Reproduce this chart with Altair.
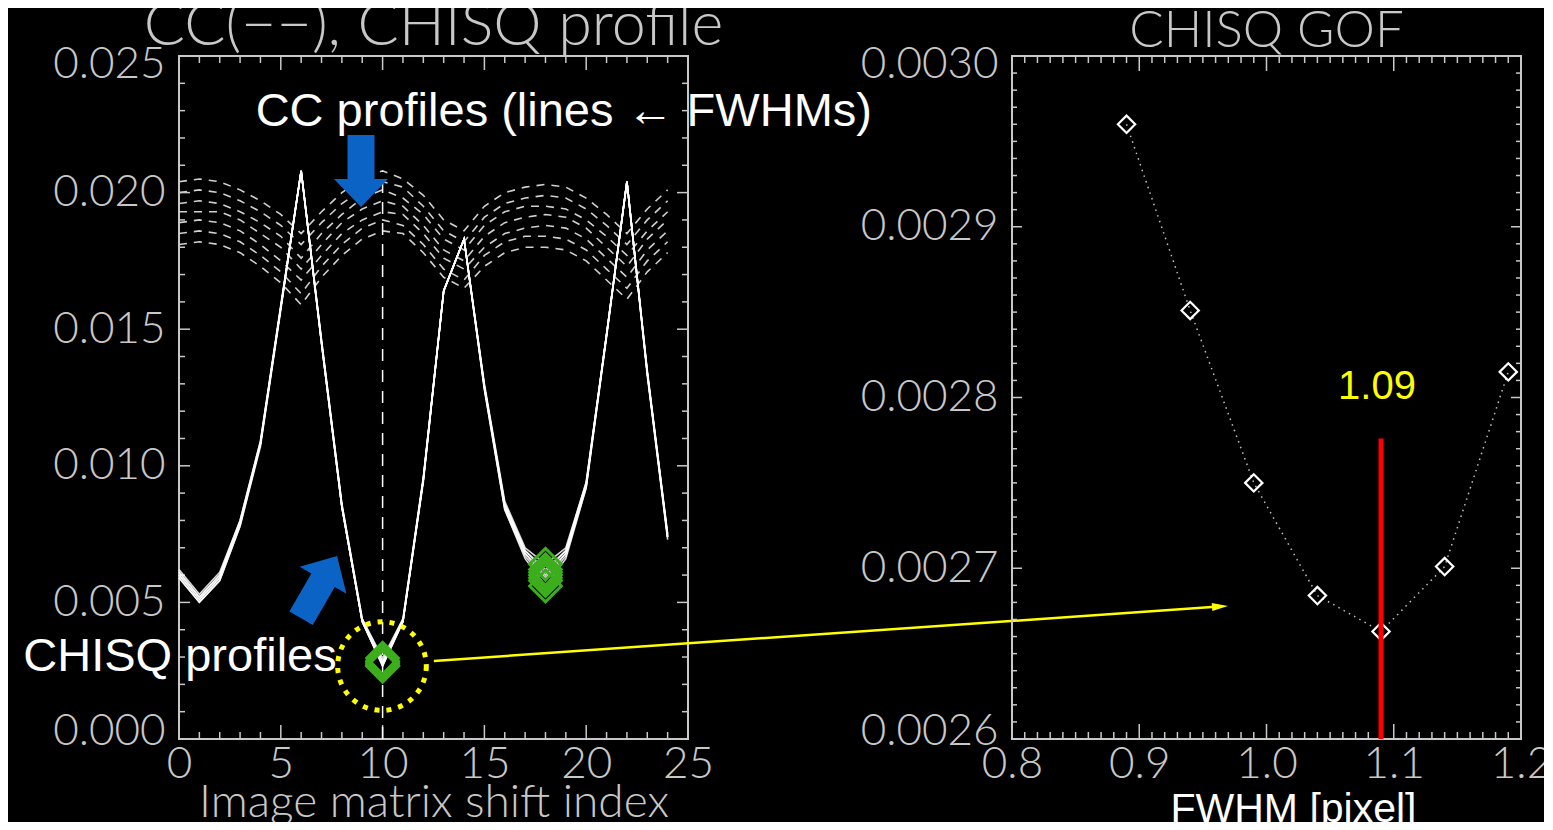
import altair as alt
import pandas as pd

# ---------------- data ----------------
SHIFT = list(range(25))
FWHM = [0.89, 0.94, 0.99, 1.04, 1.09, 1.14, 1.19]
GOF = [0.002960, 0.002851, 0.002750, 0.002684, 0.002663, 0.002701, 0.002815]
BEST_FWHM = 1.09

CC_089 = [0.0204, 0.0205, 0.0204, 0.0201, 0.0197, 0.0192, 0.0185, 0.0193, 0.0200, 0.0205, 0.0208, 0.0205, 0.0199,
          0.0190, 0.0186, 0.0195, 0.0200, 0.0202, 0.0203, 0.0202, 0.0198, 0.0192, 0.0185, 0.0194, 0.0201]
CC_094 = [0.0200, 0.0201, 0.0200, 0.0197, 0.0193, 0.0188, 0.0181, 0.0189, 0.0196, 0.0201, 0.0204, 0.0202, 0.0195,
          0.0186, 0.0182, 0.0191, 0.0196, 0.0198, 0.0199, 0.0198, 0.0194, 0.0188, 0.0181, 0.0190, 0.0197]
CC_099 = [0.0196, 0.0197, 0.0196, 0.0193, 0.0189, 0.0184, 0.0176, 0.0185, 0.0192, 0.0198, 0.0201, 0.0198, 0.0192,
          0.0183, 0.0179, 0.0188, 0.0193, 0.0195, 0.0195, 0.0194, 0.0190, 0.0184, 0.0177, 0.0186, 0.0193]
CC_104 = [0.0193, 0.0193, 0.0193, 0.0190, 0.0185, 0.0180, 0.0172, 0.0181, 0.0189, 0.0194, 0.0197, 0.0195, 0.0188,
          0.0179, 0.0175, 0.0184, 0.0189, 0.0191, 0.0192, 0.0191, 0.0187, 0.0180, 0.0173, 0.0183, 0.0190]
CC_109 = [0.0189, 0.0190, 0.0189, 0.0186, 0.0181, 0.0175, 0.0168, 0.0177, 0.0185, 0.0190, 0.0193, 0.0192, 0.0185,
          0.0176, 0.0172, 0.0180, 0.0185, 0.0187, 0.0188, 0.0187, 0.0183, 0.0176, 0.0169, 0.0179, 0.0186]
CC_114 = [0.0185, 0.0186, 0.0185, 0.0182, 0.0177, 0.0171, 0.0163, 0.0173, 0.0181, 0.0187, 0.0190, 0.0188, 0.0181,
          0.0172, 0.0168, 0.0177, 0.0182, 0.0184, 0.0184, 0.0183, 0.0179, 0.0172, 0.0165, 0.0175, 0.0182]
CC_119 = [0.0181, 0.0182, 0.0181, 0.0178, 0.0173, 0.0167, 0.0159, 0.0169, 0.0177, 0.0183, 0.0186, 0.0185, 0.0178,
          0.0169, 0.0165, 0.0173, 0.0178, 0.0180, 0.0180, 0.0179, 0.0175, 0.0168, 0.0161, 0.0171, 0.0178]

CHISQ_089 = [0.0062, 0.0053, 0.0061, 0.0080, 0.0109, 0.0159, 0.0208, 0.0146, 0.0086, 0.0044, 0.002960, 0.0044, 0.0096,
             0.0164, 0.0183, 0.0130, 0.0087, 0.0070, 0.0064, 0.0070, 0.0094, 0.0148, 0.0204, 0.0135, 0.0075]
CHISQ_094 = [0.0061, 0.0052, 0.0060, 0.0080, 0.0109, 0.0158, 0.0208, 0.0146, 0.0086, 0.0044, 0.002851, 0.0044, 0.0095,
             0.0164, 0.0183, 0.0129, 0.0086, 0.0069, 0.0062, 0.0069, 0.0094, 0.0148, 0.0204, 0.0134, 0.0075]
CHISQ_099 = [0.0061, 0.0052, 0.0060, 0.0079, 0.0108, 0.0158, 0.0208, 0.0145, 0.0085, 0.0043, 0.002750, 0.0043, 0.0095,
             0.0164, 0.0183, 0.0129, 0.0086, 0.0069, 0.0061, 0.0069, 0.0093, 0.0148, 0.0204, 0.0134, 0.0074]
CHISQ_104 = [0.0060, 0.0051, 0.0059, 0.0079, 0.0108, 0.0158, 0.0208, 0.0145, 0.0085, 0.0043, 0.002684, 0.0043, 0.0095,
             0.0164, 0.0183, 0.0129, 0.0085, 0.0068, 0.0060, 0.0068, 0.0093, 0.0148, 0.0204, 0.0134, 0.0074]
CHISQ_109 = [0.0060, 0.0051, 0.0059, 0.0079, 0.0108, 0.0158, 0.0208, 0.0145, 0.0085, 0.0043, 0.002663, 0.0043, 0.0095,
             0.0164, 0.0183, 0.0129, 0.0085, 0.0068, 0.0059, 0.0068, 0.0093, 0.0148, 0.0204, 0.0134, 0.0074]
CHISQ_114 = [0.0059, 0.0050, 0.0058, 0.0078, 0.0108, 0.0158, 0.0208, 0.0145, 0.0085, 0.0043, 0.002701, 0.0043, 0.0095,
             0.0164, 0.0183, 0.0128, 0.0084, 0.0067, 0.0058, 0.0067, 0.0092, 0.0148, 0.0204, 0.0134, 0.0074]
CHISQ_119 = [0.0059, 0.0050, 0.0058, 0.0078, 0.0107, 0.0157, 0.0208, 0.0145, 0.0085, 0.0043, 0.002815, 0.0043, 0.0094,
             0.0164, 0.0183, 0.0128, 0.0084, 0.0066, 0.0056, 0.0066, 0.0092, 0.0147, 0.0204, 0.0133, 0.0073]

MIN_SHIFTS = [10, 18]

LEFT_X_TICKS = [0, 5, 10, 15, 20, 25]
LEFT_Y_TICKS = [0.0, 0.005, 0.010, 0.015, 0.020, 0.025]
RIGHT_X_TICKS = [0.8, 0.9, 1.0, 1.1, 1.2]
RIGHT_Y_TICKS = [0.0026, 0.0027, 0.0028, 0.0029, 0.0030]
LEFT_X_MINOR = [i for i in range(26) if i % 5]
LEFT_Y_MINOR = [round(i * 0.001, 3) for i in range(26) if i % 5]
RIGHT_X_MINOR = [round(0.8 + i * 0.01, 2) for i in range(41) if i % 10]
RIGHT_Y_MINOR = [round(0.0026 + i * 0.00001, 5) for i in range(41) if i % 10]

# ---------------- style ----------------
W, H = 509, 683
GRAY = "#c8c8c8"
HFONT = "Lato"
AFONT = "Liberation Sans"
BLUE = "#0b63c6"
YELLOW = "#ffff00"
GREEN = "#3cae1c"
ARROW = "M-0.375,-1L0.375,-1L0.375,0.22L0.75,0.22L0,1L-0.75,0.22L-0.375,0.22Z"
HEAD = "M-1,-0.5L1,0L-1,0.5Z"

CC_LIST = [CC_089, CC_094, CC_099, CC_104, CC_109, CC_114, CC_119]
CHISQ_LIST = [CHISQ_089, CHISQ_094, CHISQ_099, CHISQ_104, CHISQ_109, CHISQ_114, CHISQ_119]

cc_df = pd.concat([pd.DataFrame({"shift": SHIFT, "cc": v, "fwhm": f}) for f, v in zip(FWHM, CC_LIST)])
chi_df = pd.concat([pd.DataFrame({"shift": SHIFT, "chisq": v, "fwhm": f}) for f, v in zip(FWHM, CHISQ_LIST)])
dm_df = pd.DataFrame({
    "shift": [s for s in MIN_SHIFTS for _ in FWHM],
    "chisq": [v[s] for s in MIN_SHIFTS for v in CHISQ_LIST],
})

xs_l = alt.Scale(domain=[0, 25], nice=False, zero=False)
ys_l = alt.Scale(domain=[0, 0.025], nice=False, zero=False)
xs_r = alt.Scale(domain=[0.8, 1.2], nice=False, zero=False)
ys_r = alt.Scale(domain=[0.0026, 0.0030], nice=False, zero=False)

AX_LX = alt.Axis(values=LEFT_X_TICKS, format="d", title="Image matrix shift index",
                 titleFont=HFONT, titleFontSize=46, titleColor=GRAY, titleFontWeight=300,
                 labelPadding=3, maxExtent=41, minExtent=41, titlePadding=0)
AX_LY = alt.Axis(values=LEFT_Y_TICKS, format=".3f", title=None, labelPadding=14,
                 labelFlush=True, labelFlushOffset=14)
AX_RX = alt.Axis(values=RIGHT_X_TICKS, format=".1f", title="FWHM [pixel]",
                 titleFont=AFONT, titleFontSize=41, titleColor="white", titleFontWeight="normal",
                 titleX=281, labelPadding=3, maxExtent=50, minExtent=50, titlePadding=0)
AX_RY = alt.Axis(values=RIGHT_Y_TICKS, format=".4f", title=None, labelPadding=14,
                 labelFlush=True, labelFlushOffset=14)


def LX(f):
    return alt.X(f, scale=xs_l, axis=AX_LX)


def LY(f):
    return alt.Y(f, scale=ys_l, axis=AX_LY)


def RX(f):
    return alt.X(f, scale=xs_r, axis=AX_RX)


def RY(f):
    return alt.Y(f, scale=ys_r, axis=AX_RY)


def frame_ticks(xvals, yvals, X, Y, xlen, ylen):
    bx = alt.Chart(pd.DataFrame({"v": xvals})).mark_rule(color=GRAY, strokeWidth=1.5)
    by = alt.Chart(pd.DataFrame({"v": yvals})).mark_rule(color=GRAY, strokeWidth=1.5)
    return [
        bx.encode(x=X("v:Q"), y=alt.value(H), y2=alt.value(H - xlen)),
        bx.encode(x=X("v:Q"), y=alt.value(0), y2=alt.value(xlen)),
        by.encode(y=Y("v:Q"), x=alt.value(0), x2=alt.value(ylen)),
        by.encode(y=Y("v:Q"), x=alt.value(W), x2=alt.value(W - ylen)),
    ]


# ---------------- left panel ----------------
cc_lines = alt.Chart(cc_df).mark_line(strokeDash=[8, 7], strokeWidth=1.6, color="#d0d0d0").encode(
    x=LX("shift:Q"), y=LY("cc:Q"), detail="fwhm:N")
chi_lines = alt.Chart(chi_df).mark_line(strokeWidth=1.6, color="white", opacity=0.85).encode(
    x=LX("shift:Q"), y=LY("chisq:Q"), detail="fwhm:N")
vrule = alt.Chart(pd.DataFrame({"shift": [MIN_SHIFTS[0]], "lo": [0.0], "hi": [CC_089[MIN_SHIFTS[0]]]})).mark_rule(
    strokeDash=[12, 9], color="white", strokeWidth=1.5).encode(x=LX("shift:Q"), y=LY("lo:Q"), y2="hi:Q")
diamonds = alt.Chart(dm_df).mark_point(shape="diamond", filled=False, color=GREEN, strokeWidth=3,
                                       size=1000, opacity=1).encode(x=LX("shift:Q"), y=LY("chisq:Q"))

# annotations (placed in data coordinates of the left panel)
txt_df = pd.DataFrame({"x": [18.9, 0.05], "y": [0.02244, 0.00249],
                       "t": ["CC profiles (lines \u2190 FWHMs)", "CHISQ profiles"]})
texts = alt.Chart(txt_df).mark_text(font=AFONT, fontSize=47, color="white", align="center",
                                    baseline="alphabetic").encode(x=LX("x:Q"), y=LY("y:Q"), text="t:N")
arrow_down = alt.Chart(pd.DataFrame({"x": [8.94], "y": [0.02079]})).mark_point(
    shape=ARROW, filled=True, color=BLUE, size=5184, opacity=1).encode(x=LX("x:Q"), y=LY("y:Q"))
arrow_diag = alt.Chart(pd.DataFrame({"x": [6.88], "y": [0.00556]})).mark_point(
    shape=ARROW, filled=True, color=BLUE, size=5184, opacity=1, angle=210).encode(x=LX("x:Q"), y=LY("y:Q"))
circle = alt.Chart(pd.DataFrame({"x": [9.97], "y": [0.00267]})).mark_point(
    shape="circle", filled=False, color=YELLOW, strokeWidth=5, strokeDash=[5, 7], size=7854,
    opacity=1).encode(x=LX("x:Q"), y=LY("y:Q"))
link = alt.Chart(pd.DataFrame({"x": [12.52, 50.74], "y": [0.002855, 0.00483]})).mark_line(
    color=YELLOW, strokeWidth=2.5).encode(x=LX("x:Q"), y=LY("y:Q"))
link_head = alt.Chart(pd.DataFrame({"x": [51.13], "y": [0.00485]})).mark_point(
    shape=HEAD, filled=True, color=YELLOW, size=256, opacity=1, angle=356).encode(x=LX("x:Q"), y=LY("y:Q"))

left = alt.layer(
    cc_lines,
    *frame_ticks(LEFT_X_TICKS, LEFT_Y_TICKS, LX, LY, 14, 11),
    *frame_ticks(LEFT_X_MINOR, LEFT_Y_MINOR, LX, LY, 7, 6),
    chi_lines, vrule, diamonds, circle, link, link_head, arrow_down, arrow_diag, texts,
).properties(width=W, height=H,
             title=alt.TitleParams("CC(\u2212\u2212), CHISQ profile", fontSize=61, frame="group"))

# ---------------- right panel ----------------
gof_df = pd.DataFrame({"fwhm": FWHM, "gof": GOF})
gof_line = alt.Chart(gof_df).mark_line(strokeDash=[1.5, 4.5], strokeWidth=1.5, color="#c0c0c0").encode(
    x=RX("fwhm:Q"), y=RY("gof:Q"))
gof_pts = alt.Chart(gof_df).mark_point(shape="diamond", filled=False, color="white", strokeWidth=2.2,
                                       size=300, opacity=1).encode(x=RX("fwhm:Q"), y=RY("gof:Q"))
best = alt.Chart(pd.DataFrame({"fwhm": [BEST_FWHM], "lo": [0.0026], "hi": [0.002776]})).mark_rule(
    color="#ff0000", strokeWidth=5).encode(x=RX("fwhm:Q"), y=RY("lo:Q"), y2="hi:Q")
best_txt = alt.Chart(pd.DataFrame({"fwhm": [1.0868], "y": [0.002799], "t": [f"{BEST_FWHM:.2f}"]})).mark_text(
    font=AFONT, fontSize=40, color=YELLOW, align="center", baseline="alphabetic").encode(
    x=RX("fwhm:Q"), y=RY("y:Q"), text="t:N")

right = alt.layer(
    gof_line,
    *frame_ticks(RIGHT_X_TICKS, RIGHT_Y_TICKS, RX, RY, 15, 10),
    *frame_ticks(RIGHT_X_MINOR, RIGHT_Y_MINOR, RX, RY, 7, 5),
    gof_pts, best, best_txt,
).properties(width=W, height=H, title=alt.TitleParams("CHISQ GOF", fontSize=51, frame="group"))

chart = alt.hconcat(left, right, spacing=324, bounds="flush").properties(
    padding={"left": 14, "top": -13, "right": -9, "bottom": -8},
    background="black",
).configure_view(stroke=GRAY, strokeWidth=2).configure_axis(
    labelFont=HFONT, labelFontSize=44, labelColor=GRAY, labelFontWeight=300,
    ticks=False, domain=False, grid=False, labelFlush=False, labelOverlap=False, labelBound=False,
).configure_title(
    font=HFONT, color=GRAY, fontWeight=300, anchor="middle", baseline="alphabetic", offset=-16,
)

chart.save("out.html", embed_options={"renderer": "svg", "actions": False})
